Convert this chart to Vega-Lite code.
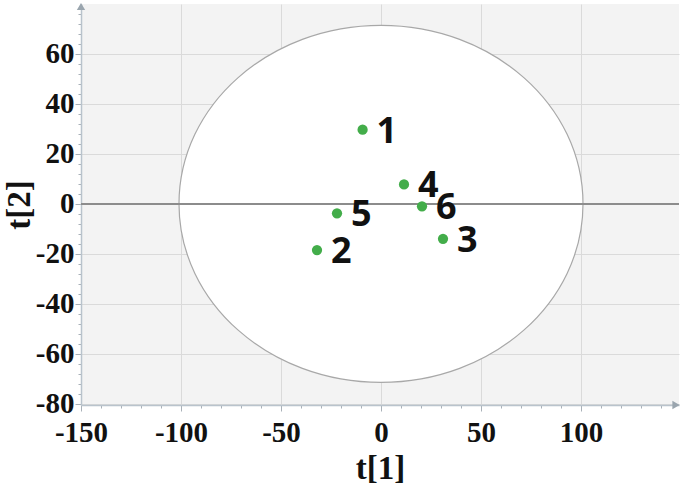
{
  "$schema": "https://vega.github.io/schema/vega-lite/v6.json",
  "width": 598,
  "height": 401,
  "autosize": {"type": "none"},
  "padding": {"left": 81, "top": 4, "right": 6, "bottom": 84},
  "background": "white",
  "config": {
    "view": {"fill": "#f3f3f3", "stroke": null},
    "axis": {
      "zindex": 1,
      "labelFont": "Liberation Serif",
      "labelFontWeight": "bold",
      "labelFontSize": 29,
      "labelColor": "#111111",
      "titleFont": "Liberation Serif",
      "titleFontWeight": "bold",
      "titleFontSize": 33,
      "titleColor": "#111111",
      "domainColor": "#b9c3cc",
      "domainWidth": 1.5,
      "tickColor": "#a9b1b8",
      "gridColor": "#dadada",
      "gridWidth": 1,
      "labelOverlap": false,
      "labelFlush": false,
      "labelBound": false
    }
  },
  "datasets": {
    "scores": [
      {"x": -9.2, "y": 29.7, "name": "1"},
      {"x": -32, "y": -18.5, "name": "2"},
      {"x": 31, "y": -14, "name": "3"},
      {"x": 11.5, "y": 7.8, "name": "4"},
      {"x": -22, "y": -3.8, "name": "5"},
      {"x": 20.5, "y": -1, "name": "6"}
    ],
    "ellipse": [{"x": 0, "y": 0}],
    "zero": [{"y": 0}],
    "arrowUp": [{"x": -150, "y": 79}],
    "arrowRight": [{"x": 147.5, "y": -80.5}]
  },
  "layer": [
    {
      "data": {"name": "ellipse"},
      "mark": {
        "type": "point",
        "shape": "M -1 0 C -1 -0.4883 -0.5523 -0.884 0 -0.884 C 0.5523 -0.884 1 -0.4883 1 0 C 1 0.4883 0.5523 0.884 0 0.884 C -0.5523 0.884 -1 0.4883 -1 0 Z",
        "size": 163216,
        "filled": true,
        "fill": "white",
        "fillOpacity": 1,
        "opacity": 1,
        "stroke": "#a8a8a8",
        "strokeWidth": 1.2
      },
      "encoding": {
        "x": {
          "field": "x", "type": "quantitative",
          "scale": {"domain": [-150, 149], "nice": false, "zero": false},
          "axis": {
            "title": "t[1]",
            "tickCount": 500,
            "values": [-150,-140,-130,-120,-110,-100,-90,-80,-70,-60,-50,-40,-30,-20,-10,0,10,20,30,40,50,60,70,80,90,100,110,120,130,140],
            "labelExpr": "datum.value % 50 === 0 ? '' + datum.value : ''",
            "tickSize": {"condition": {"test": "datum.value % 50 === 0", "value": 6}, "value": 3},
            "gridOpacity": {"condition": {"test": "datum.value % 50 === 0", "value": 1}, "value": 0},
            "labelPadding": 7,
            "titlePadding": 5
          }
        },
        "y": {
          "field": "y", "type": "quantitative",
          "scale": {"domain": [-80.5, 80], "nice": false, "zero": false},
          "axis": {
            "title": "t[2]",
            "tickCount": 500,
            "values": [-80,-76,-72,-68,-64,-60,-56,-52,-48,-44,-40,-36,-32,-28,-24,-20,-16,-12,-8,-4,0,4,8,12,16,20,24,28,32,36,40,44,48,52,56,60,64,68,72,76],
            "labelExpr": "datum.value % 20 === 0 ? '' + datum.value : ''",
            "tickSize": {"condition": {"test": "datum.value % 20 === 0", "value": 6}, "value": 3},
            "gridOpacity": {"condition": {"test": "datum.value % 20 === 0 && datum.value !== 0", "value": 1}, "value": 0},
            "labelPadding": 1,
            "titleX": -45,
            "titleBaseline": "bottom"
          }
        }
      }
    },
    {
      "data": {"name": "zero"},
      "mark": {"type": "rule", "color": "#8c8c8c", "strokeWidth": 2},
      "encoding": {
        "y": {"field": "y", "type": "quantitative", "scale": {"domain": [-80.5, 80], "nice": false, "zero": false}}
      }
    },
    {
      "data": {"name": "arrowUp"},
      "mark": {"type": "point", "shape": "triangle-up", "filled": true, "color": "#9aa5ae", "size": 70, "opacity": 1},
      "encoding": {
        "x": {"field": "x", "type": "quantitative", "scale": {"domain": [-150, 149], "nice": false, "zero": false}},
        "y": {"field": "y", "type": "quantitative", "scale": {"domain": [-80.5, 80], "nice": false, "zero": false}}
      }
    },
    {
      "data": {"name": "arrowRight"},
      "mark": {"type": "point", "shape": "triangle-right", "filled": true, "color": "#9aa5ae", "size": 70, "opacity": 1},
      "encoding": {
        "x": {"field": "x", "type": "quantitative", "scale": {"domain": [-150, 149], "nice": false, "zero": false}},
        "y": {"field": "y", "type": "quantitative", "scale": {"domain": [-80.5, 80], "nice": false, "zero": false}}
      }
    },
    {
      "data": {"name": "scores"},
      "mark": {"type": "point", "filled": true, "color": "#43ad4a", "size": 105, "opacity": 1},
      "encoding": {
        "x": {"field": "x", "type": "quantitative", "scale": {"domain": [-150, 149], "nice": false, "zero": false}},
        "y": {"field": "y", "type": "quantitative", "scale": {"domain": [-80.5, 80], "nice": false, "zero": false}}
      }
    },
    {
      "data": {"name": "scores"},
      "mark": {"type": "text", "align": "left", "baseline": "middle", "dx": 14, "dy": 2, "font": "Open Sans", "fontWeight": "bold", "fontSize": 36, "color": "#111111"},
      "encoding": {
        "x": {"field": "x", "type": "quantitative", "scale": {"domain": [-150, 149], "nice": false, "zero": false}},
        "y": {"field": "y", "type": "quantitative", "scale": {"domain": [-80.5, 80], "nice": false, "zero": false}},
        "text": {"field": "name"}
      }
    }
  ]
}
